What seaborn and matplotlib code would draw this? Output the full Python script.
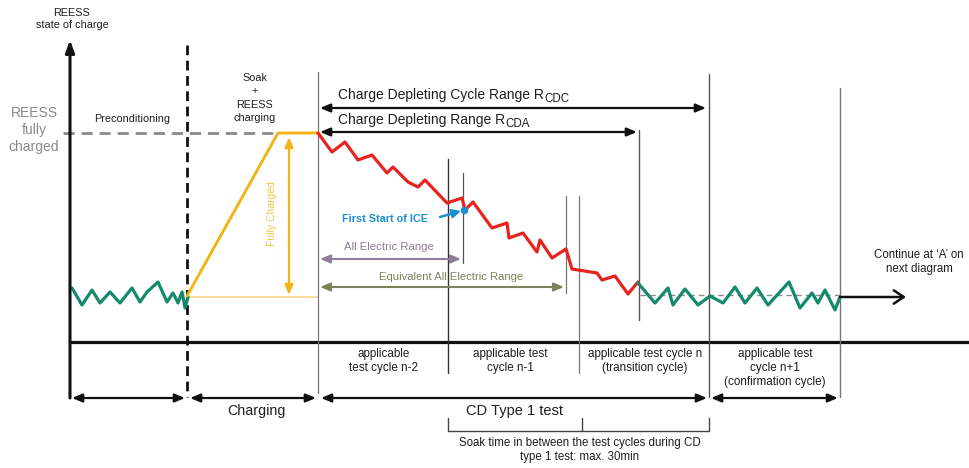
import matplotlib
matplotlib.use("Agg")
import matplotlib.pyplot as plt
import seaborn as sns
import pandas as pd

sns.set_theme(style="white")
plt.rcParams['font.family'] = ['Liberation Sans', 'DejaVu Sans']

# ---- data (schematic state-of-charge traces, in diagram units; y grows downward) ----
precond_x = [72, 82, 92, 100, 110, 120, 132, 140, 147, 158, 167, 173, 178, 182, 185, 188]
precond_y = [288, 305, 290, 303, 292, 303, 288, 302, 292, 282, 302, 293, 303, 292, 308, 297]

charge_x = [187, 278, 318]
charge_y = [296, 133, 133]

deplete_x = [318, 332, 345, 358, 372, 387, 393, 408, 418, 425, 447, 462, 465, 473, 492, 507,
             509, 523, 537, 540, 552, 566, 572, 597, 602, 615, 628, 638]
deplete_y = [133, 152, 142, 160, 155, 173, 167, 182, 187, 180, 203, 198, 210, 202, 228, 223,
             238, 233, 252, 240, 258, 249, 269, 273, 280, 276, 294, 282]

sustain_x = [638, 655, 668, 673, 685, 698, 710, 723, 735, 745, 757, 768, 789, 800, 812, 818,
             825, 835, 840]
sustain_y = [283, 303, 288, 305, 289, 305, 296, 303, 287, 303, 288, 305, 282, 308, 293, 303,
             290, 310, 297]

phase_labels = ["applicable\ntest cycle n-2", "applicable test\ncycle n-1",
                "applicable test cycle n\n(transition cycle)",
                "applicable test\ncycle n+1\n(confirmation cycle)"]

GREEN = "#14896d"
RED = "#e8231f"
ORANGE = "#f2b417"
LIGHT_ORANGE = "#f8d88c"
GRAY = "#8a8a8a"
BLUE = "#1f8fd2"
PURPLE = "#8d7c9b"
OLIVE = "#7b8458"
TXT = "#1e1e1e"

fig = plt.figure(figsize=(9.69, 4.68), dpi=100)
ax = fig.add_axes([0, 0, 1, 1])

df_pre = pd.DataFrame({"x": precond_x, "y": precond_y})
df_chg = pd.DataFrame({"x": charge_x, "y": charge_y})
df_dep = pd.DataFrame({"x": deplete_x, "y": deplete_y})
df_sus = pd.DataFrame({"x": sustain_x, "y": sustain_y})

# reference lines
ax.plot([63, 280], [133, 133], color=GRAY, lw=2, dashes=(4, 2.5), zorder=1)
ax.plot([187, 318], [297, 297], color=LIGHT_ORANGE, lw=1.2, zorder=1)
ax.plot([640, 840], [295, 295], color=GRAY, lw=1, dashes=(4, 3), zorder=1)

# traces
sns.lineplot(data=df_pre, x="x", y="y", ax=ax, color=GREEN, lw=2.3, sort=False, estimator=None, zorder=3)
sns.lineplot(data=df_chg, x="x", y="y", ax=ax, color=ORANGE, lw=2.1, sort=False, estimator=None, zorder=3)
sns.lineplot(data=df_dep, x="x", y="y", ax=ax, color=RED, lw=2.3, sort=False, estimator=None, zorder=3)
sns.lineplot(data=df_sus, x="x", y="y", ax=ax, color=GREEN, lw=2.3, sort=False, estimator=None, zorder=3)
ax.set_xlim(0, 969)
ax.set_ylim(468, 0)
ax.axis("off")

# axes of the diagram
ax.annotate("", xy=(70, 40), xytext=(70, 398),
            arrowprops=dict(arrowstyle="-|>,head_length=0.6,head_width=0.22", lw=2.2, color="#111",
                            shrinkA=0, shrinkB=0, mutation_scale=12))
ax.plot([70, 969], [342, 342], color="#111", lw=2.3, zorder=2)
ax.plot([187, 187], [45, 397], color="#111", lw=2, dashes=(3.5, 2), zorder=2)

# vertical markers (x, y_top, y_bottom, color, lw)
verticals = [(318, 72, 393, "#777", 0.9), (709, 74, 397, "#555", 1.0), (840, 88, 397, "#777", 1.0),
             (639, 130, 320, "#555", 1.0), (448, 159, 373, "#333", 1.0), (463, 173, 263, "#555", 0.9),
             (566, 196, 293, "#777", 0.9), (579, 196, 373, "#777", 0.9)]
for vx, yt, yb, c, w in verticals:
    ax.plot([vx, vx], [yt, yb], color=c, lw=w, zorder=2)

def darrow(x0, x1, y, color="#111", lw=1.6, style="<|-|>"):
    ax.annotate("", xy=(x1, y), xytext=(x0, y),
                arrowprops=dict(arrowstyle=style + ",head_length=0.6,head_width=0.25", lw=lw,
                                color=color, shrinkA=0, shrinkB=0, mutation_scale=10))

# range arrows
darrow(320, 706, 108)
darrow(320, 637, 132)
darrow(320, 461, 259, color=PURPLE, lw=1.5)
darrow(320, 564, 287, color=OLIVE, lw=1.5)
ax.annotate("", xy=(289, 295), xytext=(289, 137),
            arrowprops=dict(arrowstyle="<|-|>,head_length=0.6,head_width=0.25", lw=1.6, color=ORANGE,
                            shrinkA=0, shrinkB=0, mutation_scale=10))

# bottom arrows
darrow(72, 185, 398)
darrow(190, 316, 398)
darrow(321, 707, 398)
darrow(711, 838, 398)

# continue arrow
ax.annotate("", xy=(906, 297), xytext=(840, 297),
            arrowprops=dict(arrowstyle="->,head_length=0.6,head_width=0.4", lw=1.8, color="#111",
                            shrinkA=0, shrinkB=0, mutation_scale=12))

# ICE marker
ax.annotate("", xy=(461, 211), xytext=(440, 217),
            arrowprops=dict(arrowstyle="-|>,head_length=0.5,head_width=0.25", lw=1.8, color=BLUE,
                            shrinkA=0, shrinkB=0, mutation_scale=10))
ax.plot([464], [210], marker="o", ms=4.5, color=BLUE, zorder=4)

# soak bracket
ax.plot([448, 448, 709, 709], [418, 431, 431, 418], color="#444", lw=1)
ax.plot([582, 582], [418, 431], color="#444", lw=1)

# texts
ax.text(72, 19, "REESS\nstate of charge", ha="center", va="center", fontsize=7.8, color=TXT,
        linespacing=1.25)
ax.text(34, 130, "REESS\nfully\ncharged", ha="center", va="center", fontsize=10, color=GRAY,
        linespacing=1.28)
ax.text(132, 119, "Preconditioning", ha="center", va="center", fontsize=7.8, color=TXT)
ax.text(255, 98, "Soak\n+\nREESS\ncharging", ha="center", va="center", fontsize=7.8, color=TXT,
        linespacing=1.45)
ax.text(272, 214, "Fully Charged", ha="center", va="center", fontsize=7.5, color="#f4c545", rotation=90)

t1 = ax.text(338, 95, "Charge Depleting Cycle Range R", ha="left", va="center", fontsize=10, color=TXT)
ax.annotate("CDC", xy=(1, 0), xycoords=t1, xytext=(0.3, 2.5), textcoords="offset points",
            ha="left", va="center", fontsize=8.3, color=TXT)
t2 = ax.text(338, 120, "Charge Depleting Range R", ha="left", va="center", fontsize=10, color=TXT)
ax.annotate("CDA", xy=(1, 0), xycoords=t2, xytext=(0.3, 2.5), textcoords="offset points",
            ha="left", va="center", fontsize=8.3, color=TXT)

ax.text(385, 219, "First Start of ICE", ha="center", va="center", fontsize=7.8, color=BLUE,
        fontweight="bold")
ax.text(389, 247, "All Electric Range", ha="center", va="center", fontsize=8.2, color=PURPLE)
ax.text(451, 277, "Equivalent All Electric Range", ha="center", va="center", fontsize=8.1, color=OLIVE)
ax.text(919, 262, "Continue at \u2018A\u2019 on\nnext diagram", ha="center", va="center", fontsize=8.3,
        color=TXT, linespacing=1.15)

phase_x = [384, 510, 645, 775]
for px, lab in zip(phase_x, phase_labels):
    ax.text(px, 348, lab, ha="center", va="top", fontsize=8.4, color=TXT, linespacing=1.25)

ax.text(256, 411, "Charging", ha="center", va="center", fontsize=10.3, color=TXT)
ax.text(515, 411, "CD Type 1 test", ha="center", va="center", fontsize=10.5, color=TXT)
ax.text(580, 450, "Soak time in between the test cycles during CD\ntype 1 test: max. 30min",
        ha="center", va="center", fontsize=8.3, color=TXT, linespacing=1.25)

fig.savefig("out.png", dpi=100)
